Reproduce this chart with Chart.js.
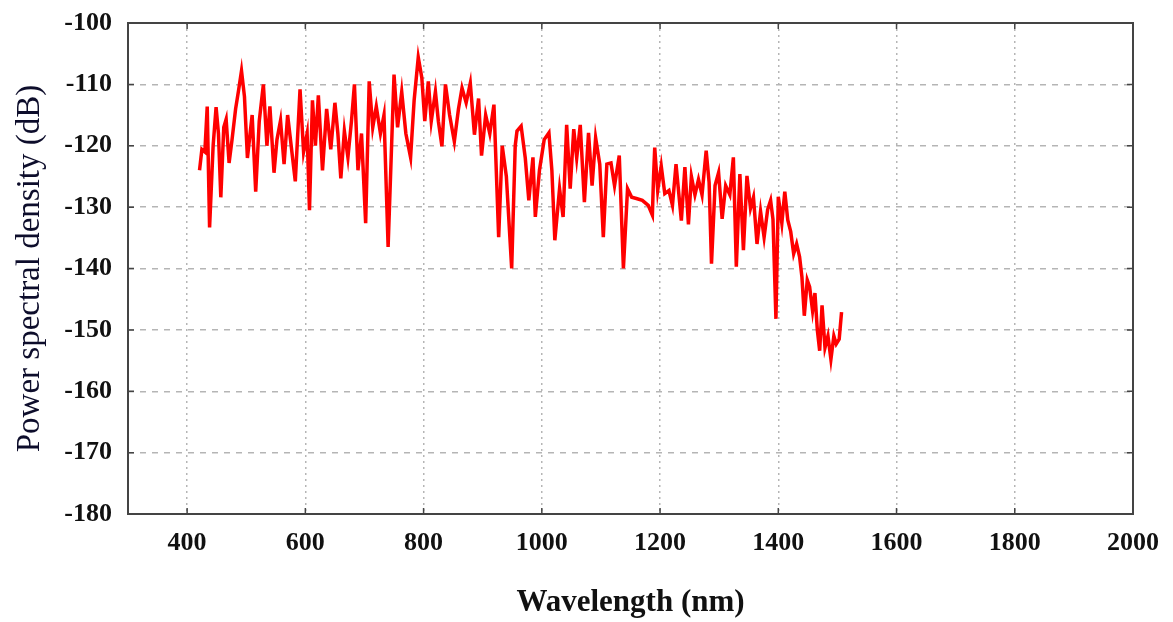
<!DOCTYPE html>
<html>
<head>
<meta charset="utf-8">
<script src="https://cdn.jsdelivr.net/npm/chart.js@4.4.1/dist/chart.umd.min.js"></script>
<style>
  html, body { margin: 0; padding: 0; background: #fff; }
  #wrap { width: 1173px; height: 622px; }
</style>
</head>
<body>
<div id="wrap"><canvas id="psdChart"></canvas></div>
<script>
// wavelength samples (nm) and power spectral density (dB)
const wavelength = [
  421, 425, 430, 434, 438, 444, 449, 453, 457, 462, 466, 471, 476, 482, 487, 492, 497, 502, 510, 516,
  522, 529, 535, 540, 547, 552, 558, 564, 570, 576, 583, 591, 597, 603, 607, 612, 617, 622, 629, 636,
  643, 650, 655, 660, 666, 672, 678, 683, 689, 695, 702, 708, 714, 720, 727, 733, 740, 750, 756, 763,
  770, 778, 784, 791, 797, 802, 808, 813, 820, 825, 831, 837, 844, 852, 859, 865, 872, 879, 886, 893,
  898, 905, 912, 919, 927, 933, 940, 949, 955, 958, 965, 972, 978, 985, 989, 996, 1004, 1012, 1017, 1022,
  1030, 1036, 1042, 1048, 1054, 1059, 1065, 1072, 1079, 1085, 1091, 1098, 1104, 1110, 1117, 1123, 1131, 1138, 1145, 1152,
  1160, 1170, 1180, 1187, 1189, 1191, 1196, 1202, 1208, 1215, 1221, 1227, 1236, 1242, 1248, 1253, 1259, 1265, 1271, 1278,
  1283, 1287, 1293, 1299, 1305, 1311, 1318, 1324, 1329, 1335, 1341, 1347, 1353, 1358, 1364, 1370, 1376, 1382, 1387, 1391,
  1396, 1400, 1406, 1411, 1416, 1421, 1426, 1431, 1436, 1440, 1444, 1449, 1453, 1458, 1462, 1466, 1470, 1474, 1479, 1484,
  1489, 1494, 1498, 1503, 1507
];
const psd = [
  -124, -120.6, -121, -113.6, -133.3, -120, -113.7, -118, -128.4, -117, -115.7, -122.8, -119, -114, -111, -107.8, -112, -122, -115, -127.5,
  -116, -110, -120, -113.6, -124.4, -119, -115.9, -123, -115, -120, -125.8, -110.8, -121, -118, -130.5, -112.6, -120, -111.8, -124, -114,
  -120.6, -113, -118, -125.3, -117.6, -121.9, -116, -110, -124, -118, -132.6, -109.5, -117, -113.6, -118, -115, -136.5, -108.4, -117, -111.2,
  -118, -121.9, -112.6, -105.6, -108.9, -116, -109.5, -116, -111.2, -116, -120.1, -110, -115, -119.3, -114, -110.6, -113, -109.8, -118.2, -112.3,
  -121.6, -115, -118, -113.3, -134.9, -120, -125, -140, -120, -117.6, -116.8, -122, -128.9, -121.9, -131.6, -124, -119, -117.9, -124, -135.4,
  -127, -131.6, -116.6, -127, -117.3, -122, -116.6, -129.2, -117.9, -126.5, -118.7, -123, -134.9, -123, -122.8, -126.5, -121.6, -140, -127, -128.4,
  -128.6, -128.9, -129.7, -131.3, -125, -120.3, -127.3, -123.3, -127.8, -127.3, -129.7, -123, -132.2, -123.5, -132.8, -125, -128, -125.5, -128, -120.8,
  -126, -139.2, -126.5, -124.4, -131.9, -126.5, -128, -121.9, -139.7, -124.6, -137, -124.9, -130.2, -128.4, -136, -130.7, -134.9, -130.4, -128.9, -132,
  -148.2, -128.3, -132.6, -127.5, -132.1, -134, -137.6, -136, -138.1, -141.4, -147.7, -141.9, -143, -146.9, -144, -150, -153.4, -146, -152.9, -151,
  -154.8, -151, -152.3, -151.5, -147.1
];
const xTicks = [400, 600, 800, 1000, 1200, 1400, 1600, 1800, 2000];
const yTicks = [-180, -170, -160, -150, -140, -130, -120, -110, -100];

const serif = "'Liberation Serif', 'Times New Roman', serif";

// closed frame plus small inward tick marks on all four sides
const framePlugin = {
  id: 'frame',
  afterDraw(chart) {
    const { ctx, chartArea: a, scales } = chart;
    ctx.save();
    ctx.strokeStyle = '#444';
    ctx.lineWidth = 1.5;
    xTicks.forEach(v => {
      const px = scales.x.getPixelForValue(v);
      ctx.beginPath();
      ctx.moveTo(px, a.bottom); ctx.lineTo(px, a.bottom - 6);
      ctx.moveTo(px, a.top); ctx.lineTo(px, a.top + 6);
      ctx.stroke();
    });
    yTicks.forEach(v => {
      const py = scales.y.getPixelForValue(v);
      ctx.beginPath();
      ctx.moveTo(a.left, py); ctx.lineTo(a.left + 6, py);
      ctx.moveTo(a.right, py); ctx.lineTo(a.right - 6, py);
      ctx.stroke();
    });
    ctx.lineWidth = 2;
    ctx.strokeRect(a.left, a.top, a.right - a.left, a.bottom - a.top);
    ctx.restore();
  }
};

new Chart(document.getElementById('psdChart'), {
  type: 'line',
  data: {
    datasets: [{
      data: wavelength.map((w, i) => ({ x: w, y: psd[i] })),
      borderColor: '#ff0000',
      borderWidth: 3.5,
      pointRadius: 0,
      tension: 0,
      fill: false
    }]
  },
  options: {
    responsive: true,
    maintainAspectRatio: false,
    animation: false,
    layout: { padding: { top: 23, right: 31, left: 0, bottom: 0 } },
    plugins: { legend: { display: false }, tooltip: { enabled: false } },
    scales: {
      x: {
        type: 'linear',
        min: 300,
        max: 2000,
        afterBuildTicks: s => { s.ticks = xTicks.map(v => ({ value: v })); },
        afterFit: s => { s.height = 108; },
        grid: { color: '#b5b5b5', lineWidth: 1.5, drawTicks: false },
        border: { display: false, dash: [2, 4] },
        ticks: {
          color: '#111', padding: 14, maxRotation: 0,
          callback: v => String(v),
          font: { family: serif, size: 26, weight: 'bold' }
        },
        title: {
          display: true,
          text: 'Wavelength (nm)',
          color: '#111',
          padding: { top: 0, bottom: 0 },
          font: { family: serif, size: 31, weight: 'bold' }
        }
      },
      y: {
        min: -180,
        max: -100,
        afterBuildTicks: s => { s.ticks = yTicks.map(v => ({ value: v })); },
        afterFit: s => { s.width = 128; s.paddingTop = 0; s.paddingBottom = 0; },
        grid: { color: '#b5b5b5', lineWidth: 1.5, drawTicks: false },
        border: { display: false, dash: [6, 6] },
        ticks: {
          color: '#111', padding: 16,
          callback: v => String(v),
          font: { family: serif, size: 26, weight: 'bold' }
        },
        title: {
          display: true,
          text: 'Power spectral density (dB)',
          color: '#0d0d2b',
          padding: { top: 11, bottom: 0 },
          font: { family: serif, size: 33 }
        }
      }
    }
  },
  plugins: [framePlugin]
});
</script>
</body>
</html>
